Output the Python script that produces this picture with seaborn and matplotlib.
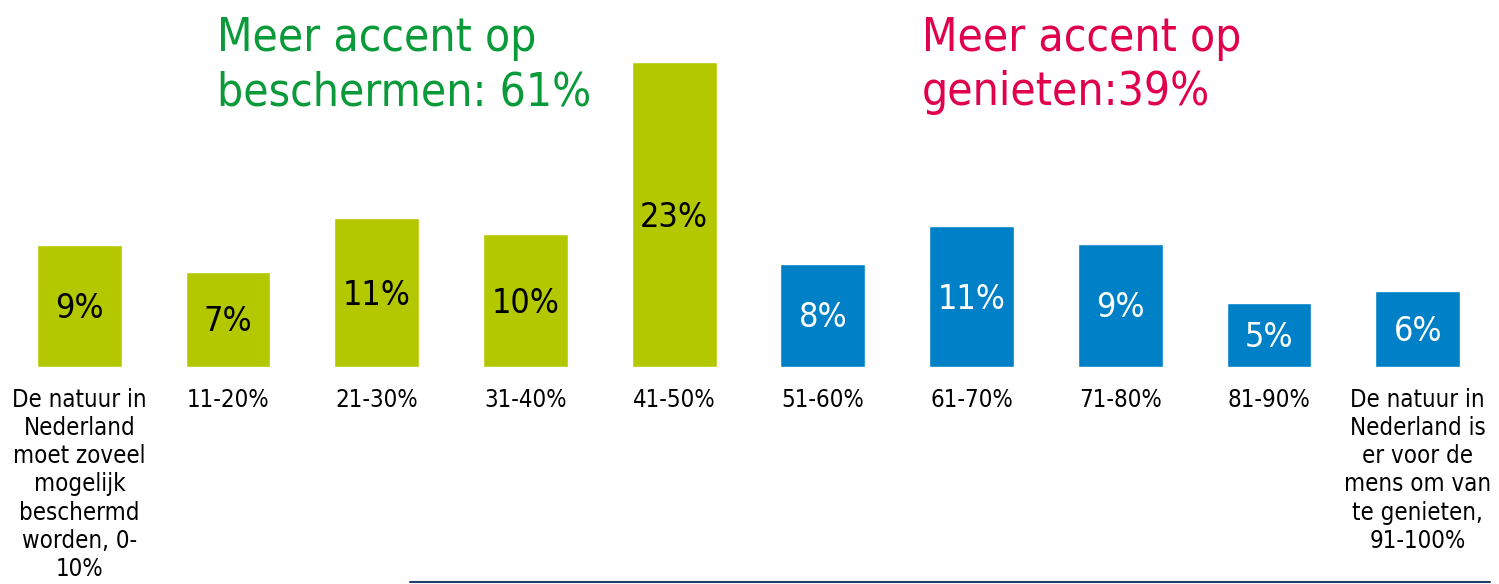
import matplotlib
matplotlib.use("Agg")
import matplotlib.pyplot as plt
import seaborn as sns
import pandas as pd
from matplotlib.lines import Line2D

categories = [
    "De natuur in\nNederland\nmoet zoveel\nmogelijk\nbeschermd\nworden, 0-\n10%",
    "11-20%", "21-30%", "31-40%", "41-50%",
    "51-60%", "61-70%", "71-80%", "81-90%",
    "De natuur in\nNederland is\ner voor de\nmens om van\nte genieten,\n91-100%",
]
heights = [9.2, 7.2, 11.2, 10.0, 23.0, 7.8, 10.6, 9.3, 4.8, 5.7]
value_labels = ["9%", "7%", "11%", "10%", "23%", "8%", "11%", "9%", "5%", "6%"]
groups = ["beschermen"] * 5 + ["genieten"] * 5

GREEN_BAR = "#b4c800"
BLUE_BAR = "#0080c6"
bar_colors = [GREEN_BAR if g == "beschermen" else BLUE_BAR for g in groups]
label_colors = ["black" if g == "beschermen" else "white" for g in groups]

sns.set_style("white")
plt.rcParams["font.family"] = ["DejaVu Sans"]

fig = plt.figure(figsize=(14.99, 5.84), dpi=100)
ax = fig.add_axes([5 / 1499, (584 - 367) / 584, (1492 - 5) / 1499, 367 / 584])

df = pd.DataFrame({"cat": categories, "val": heights})
sns.barplot(data=df, x="cat", y="val", hue="cat", palette=bar_colors,
            legend=False, width=0.57, ax=ax, saturation=1)

ax.set_ylim(0, 367 / 13.26)
ax.set_xlim(-0.5, len(categories) - 0.5)
ax.set_xlabel("")
ax.set_ylabel("")
ax.set_yticks([])
for s in ax.spines.values():
    s.set_visible(False)
ax.tick_params(axis="x", length=0, pad=15)
ax.set_xticks(range(len(categories)))
ax.set_xticklabels(categories, fontsize=17.2, fontstretch="condensed",
                   linespacing=1.22, color="black")

for i, (h, lab, c) in enumerate(zip(heights, value_labels, label_colors)):
    ax.text(i, h / 2 - 0.2, lab, ha="center", va="center", fontsize=24.5,
            color=c, fontstretch="condensed")

fig.text(217 / 1499, 1 - 16 / 584, "Meer accent op\nbeschermen: 61%",
         ha="left", va="top", fontsize=33, color="#0b9a3a",
         linespacing=1.27, fontstretch="condensed")
fig.text(922 / 1499, 1 - 16 / 584, "Meer accent op\ngenieten:39%",
         ha="left", va="top", fontsize=33, color="#e0004d",
         linespacing=1.27, fontstretch="condensed")

fig.add_artist(Line2D([410 / 1499, 1490 / 1499], [1 - 582 / 584, 1 - 582 / 584],
                      transform=fig.transFigure, color="#1f3f6e", linewidth=1.5))

fig.savefig("out.png", dpi=100)
